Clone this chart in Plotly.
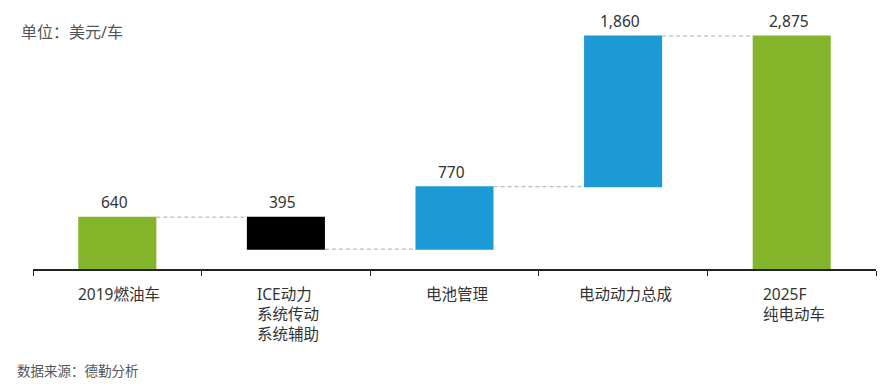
import plotly.graph_objects as go

categories = ["2019燃油车", "ICE动力<br>系统传动<br>系统辅助", "电池管理", "电动动力总成", "2025F<br>纯电动车"]
measures = ["absolute", "relative", "relative", "relative", "total"]
values = [640, -395, 770, 1860, 0]
unit_label = "单位：美元/车"
source_label = "数据来源：德勤分析"

GREEN = "#84B42A"
BLUE = "#1C9AD6"
BLACK = "#000000"
TXT = "#333333"
FONT = "Noto Sans, Noto Sans CJK SC, sans-serif"

xs = list(range(len(categories)))

# compute bar ends for labels
tops, shown = [], []
run = 0
for m, v in zip(measures, values):
    if m == "absolute":
        start, end = 0, v
        run = v
        shown.append(v)
    elif m == "relative":
        start, end = run, run + v
        run = end
        shown.append(abs(v))
    else:
        start, end = 0, run
        shown.append(run)
    tops.append(max(start, end))

fig = go.Figure()
fig.add_trace(go.Waterfall(
    x=xs, y=values, measure=measures,
    width=0.463,
    increasing=dict(marker=dict(color=BLUE)),
    decreasing=dict(marker=dict(color=BLACK)),
    totals=dict(marker=dict(color=GREEN)),
    connector=dict(line=dict(color="#aaaaaa", width=1, dash="4px,3px")),
    textinfo="none", hoverinfo="skip",
))

for x, t, s in zip(xs, tops, shown):
    fig.add_annotation(x=x, y=t, text=f"{s:,}", showarrow=False, yanchor="bottom",
                       yshift=2, xshift=-3, font=dict(size=15.5, color=TXT, family=FONT))

for x, c in zip(xs, categories):
    fig.add_annotation(x=x, y=0, text=c, showarrow=False, yanchor="top", align="left",
                       yshift=-12, xshift=2, font=dict(size=15.5, color=TXT, family=FONT))

fig.add_annotation(xref="paper", yref="paper", x=-0.0165, y=0.952, text=unit_label,
                   showarrow=False, xanchor="left", yanchor="middle",
                   font=dict(size=16, color="#555555", family=FONT))
fig.add_annotation(xref="paper", yref="paper", x=-0.021, y=-0.41, text=source_label,
                   showarrow=False, xanchor="left", yanchor="middle",
                   font=dict(size=13.5, color="#555555", family=FONT))

fig.update_layout(
    width=885, height=391,
    margin=dict(l=33, r=9, t=20, b=122),
    paper_bgcolor="white", plot_bgcolor="white",
    showlegend=False,
    xaxis=dict(range=[-0.5, 4.5], tickmode="array", tickvals=[-0.5, 0.5, 1.5, 2.5, 3.5, 4.5],
               ticktext=[""] * 6, ticks="outside", ticklen=5, tickcolor="#222", tickwidth=1.2,
               showline=True, linecolor="#222", linewidth=1.5, showgrid=False, zeroline=False),
    yaxis=dict(range=[0, 3072], visible=False, showgrid=False, zeroline=False),
)

fig.write_html("out.html", config={"displayModeBar": False},
               post_script="document.body.style.margin='0';document.body.style.overflow='hidden';")
